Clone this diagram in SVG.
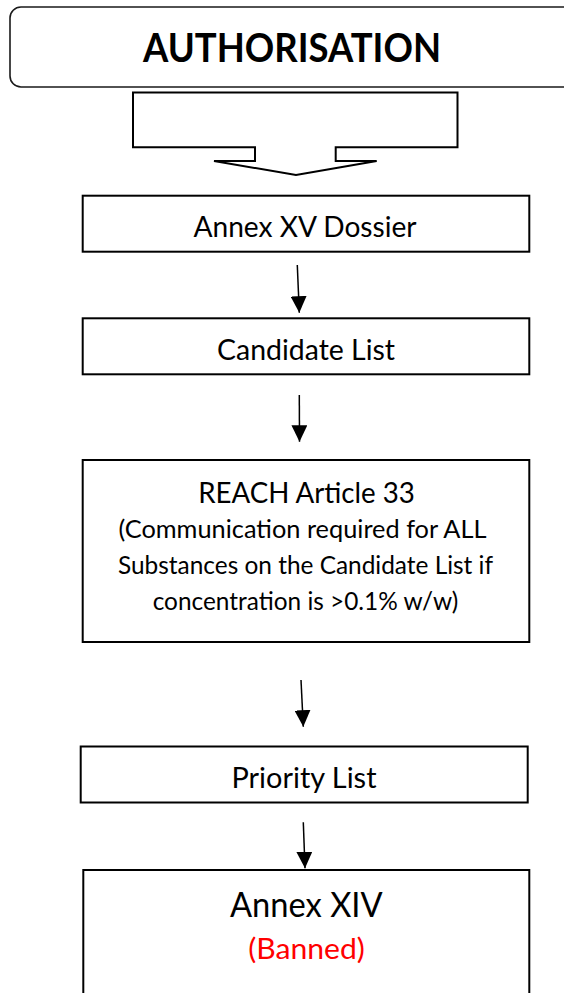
<svg xmlns="http://www.w3.org/2000/svg" width="564" height="993" viewBox="0 0 564 993">
  <style>
    .box { fill: #ffffff; stroke: #000000; stroke-width: 2; }
    .frame { fill: #ffffff; stroke: #1a1a1a; stroke-width: 1.6; }
    .lbl { font-family: Lato, "Carlito", "Liberation Sans", sans-serif; fill: #000000; text-anchor: middle; }
    .title { font-weight: bold; font-size: 40px; }
    .head { font-size: 29.5px; }
    .note { font-size: 25.5px; }
    .big { font-size: 35px; }
    .red { fill: #ff0000; }
    .conn { stroke: #000000; stroke-width: 1.5; fill: none; marker-end: url(#head); }
  </style>
  <defs>
    <marker id="head" markerUnits="userSpaceOnUse" markerWidth="17" markerHeight="16" viewBox="0 0 17 16" refX="16.5" refY="8" orient="auto">
      <path d="M0,0 L16.5,8 L0,16 Z" fill="#000000"/>
    </marker>
  </defs>
  <rect width="564" height="993" fill="#ffffff"/>

  <g id="authorisation">
    <rect class="frame" x="10" y="7" width="590" height="80" rx="11"/>
    <text class="lbl title" x="292" y="62" textLength="298" lengthAdjust="spacingAndGlyphs">AUTHORISATION</text>
  </g>

  <g id="block-arrow">
    <path class="box" stroke-width="1.8" d="M133,92.5 H457.5 V147.3 H335.7 V161 H376.7 L296,175 L214,161 H255 V147.3 H133 Z"/>
  </g>

  <g id="annex-xv">
    <rect class="box" x="82.7" y="195.7" width="446.6" height="56"/>
    <text class="lbl head" x="305" y="237" textLength="223" lengthAdjust="spacingAndGlyphs">Annex XV Dossier</text>
  </g>

  <g id="candidate-list">
    <rect class="box" x="82.7" y="318.3" width="446.6" height="56"/>
    <text class="lbl head" x="306" y="359.8" textLength="178" lengthAdjust="spacingAndGlyphs">Candidate List</text>
  </g>

  <g id="reach-article-33">
    <rect class="box" x="82.7" y="460" width="446.6" height="182"/>
    <text class="lbl head" x="306.5" y="502.8" textLength="216.7" lengthAdjust="spacingAndGlyphs">REACH Article 33</text>
    <text class="lbl note" x="302.5" y="538" textLength="368" lengthAdjust="spacingAndGlyphs">(Communication required for ALL</text>
    <text class="lbl note" x="305.5" y="574" textLength="375" lengthAdjust="spacingAndGlyphs">Substances on the Candidate List if</text>
    <text class="lbl note" x="305.5" y="609.5" textLength="305.6" lengthAdjust="spacingAndGlyphs">concentration is &gt;0.1% w/w)</text>
  </g>

  <g id="priority-list">
    <rect class="box" x="80.7" y="746.5" width="447" height="56"/>
    <text class="lbl head" x="304" y="788.2" textLength="145" lengthAdjust="spacingAndGlyphs">Priority List</text>
  </g>

  <g id="annex-xiv">
    <rect class="box" x="83.3" y="870" width="446" height="140"/>
    <text class="lbl big" x="306.3" y="916.5" textLength="152.7" lengthAdjust="spacingAndGlyphs">Annex XIV</text>
    <text class="lbl head red" x="306.5" y="958.5" textLength="116.7" lengthAdjust="spacingAndGlyphs">(Banned)</text>
  </g>

  <g id="connectors">
    <line class="conn" x1="297.3" y1="265" x2="299.3" y2="312.7"/>
    <line class="conn" x1="299.3" y1="395" x2="299.5" y2="441.7"/>
    <line class="conn" x1="301" y1="680" x2="303.3" y2="726.7"/>
    <line class="conn" x1="303.3" y1="822.3" x2="305" y2="868.3"/>
  </g>
</svg>
